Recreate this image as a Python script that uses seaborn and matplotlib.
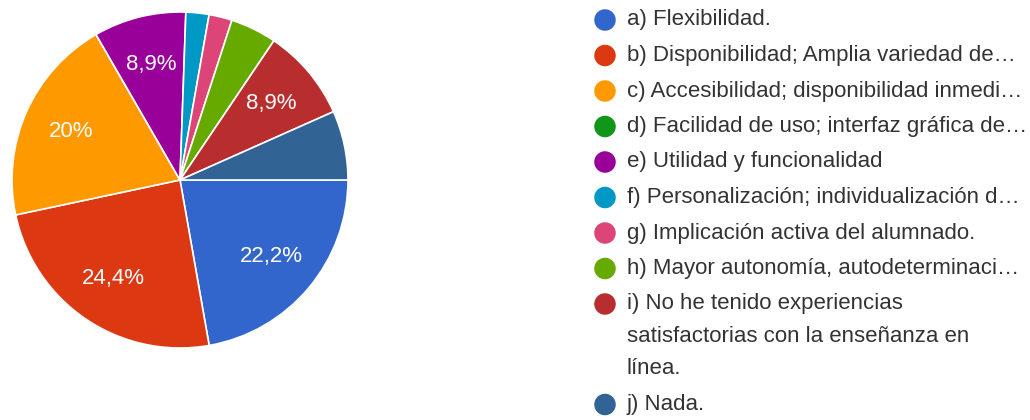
import numpy as np
import matplotlib
matplotlib.use("Agg")
import matplotlib.pyplot as plt
import seaborn as sns

# respuestas (n = 45)
labels = [
    "a) Flexibilidad.",
    "b) Disponibilidad; Amplia variedad de…",
    "c) Accesibilidad; disponibilidad inmedi…",
    "d) Facilidad de uso; interfaz gráfica de…",
    "e) Utilidad y funcionalidad",
    "f) Personalización; individualización d…",
    "g) Implicación activa del alumnado.",
    "h) Mayor autonomía, autodeterminaci…",
    "i) No he tenido experiencias\nsatisfactorias con la enseñanza en\nlínea.",
    "j) Nada.",
]
counts = [10, 11, 9, 0, 4, 1, 1, 2, 4, 3]
colors = ["#3366cc", "#dc3912", "#ff9900", "#109618", "#990099",
          "#0099c6", "#dd4477", "#66aa00", "#b82e2e", "#316395"]

sns.set_theme(style="white")
plt.rcParams["font.family"] = ["Liberation Sans", "DejaVu Sans"]
palette = sns.color_palette(colors)

W, H = 1030, 420
fig = plt.figure(figsize=(W / 100, H / 100), dpi=100)

# pie
cx, cy, r = 180, 180, 168
ax = fig.add_axes([(cx - r) / W, (H - cy - r) / H, 2 * r / W, 2 * r / H])


def fmt(p):
    if p < 8:
        return ""
    s = f"{p:.1f}".replace(".", ",")
    if s.endswith(",0"):
        s = s[:-2]
    return s + "%"


wedges, texts, autotexts = ax.pie(
    counts, colors=palette, startangle=0, counterclock=False,
    autopct=fmt, pctdistance=0.71,
    wedgeprops=dict(edgecolor="white", linewidth=1.2),
    textprops=dict(color="white", fontsize=16),
)
ax.set_xlim(-1.0, 1.0)
ax.set_ylim(-1.0, 1.0)
ax.set_aspect("equal")

# legend (drawn in pixel space)
lg = fig.add_axes([0, 0, 1, 1])
lg.set_xlim(0, W)
lg.set_ylim(H, 0)
lg.axis("off")
y = 20
item_gap = 35.5
line_gap = 32.5
for lab, col in zip(labels, palette):
    lg.scatter([605], [y], s=240, color=col, edgecolor="none")
    lines = lab.split("\n")
    for k, ln in enumerate(lines):
        lg.text(627, y + k * line_gap, ln, fontsize=16, color="#333333",
                va="center", ha="left")
    y += item_gap + (len(lines) - 1) * line_gap

fig.savefig("out.png", dpi=100, facecolor="white")
